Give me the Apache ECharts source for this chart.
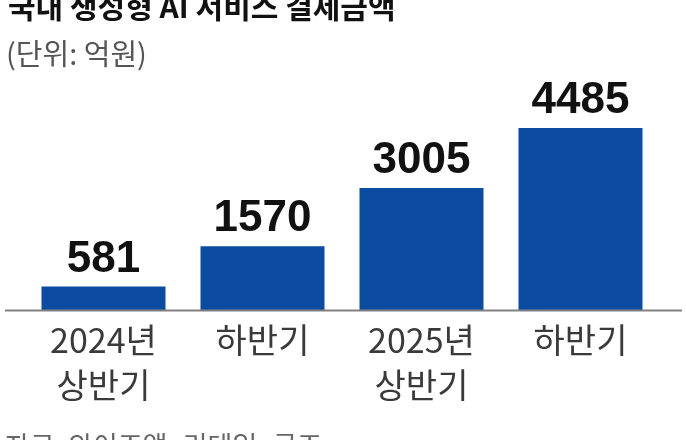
<!DOCTYPE html>
<html>
<head>
<meta charset="utf-8">
<script src="https://cdn.jsdelivr.net/npm/echarts@6/dist/echarts.min.js"></script>
<style>html,body{margin:0;padding:0;background:#fff;}#c{width:686px;height:440px;}</style>
</head>
<body>
<div id="c"></div>
<script>
const titleText = '국내 생성형 AI 서비스 결제금액';
const unitText = '(단위: 억원)';
const sourceText = '자료: 와이즈앱·리테일·굿즈';
const categories = ['2024년\n상반기', '하반기', '2025년\n상반기', '하반기'];
const values = [581, 1570, 3005, 4485];

const chart = echarts.init(document.getElementById('c'), null, {renderer: 'canvas'});
chart.setOption({
  backgroundColor: '#ffffff',
  animation: false,
  grid: {left: 24, right: 26, top: 107, bottom: 130},
  xAxis: {
    type: 'category',
    data: categories,
    axisLine: {show: false},
    axisTick: {show: false},
    axisLabel: {
      color: '#3a3a3a',
      fontFamily: "'Noto Sans CJK KR', sans-serif",
      fontSize: 34,
      lineHeight: 45,
      margin: 8
    }
  },
  yAxis: {
    type: 'value', min: 0, max: 5000,
    show: false,
    splitLine: {show: false}
  },
  series: [{
    type: 'bar',
    data: values,
    barWidth: 124,
    itemStyle: {color: '#0b4ca1'},
    label: {
      show: true,
      position: 'top',
      distance: 5,
      color: '#111111',
      fontFamily: "'Liberation Sans', Arial, sans-serif",
      fontWeight: 'bold',
      fontSize: 44
    }
  }],
  graphic: [
    {type: 'line', z: 10, shape: {x1: 5, y1: 310.5, x2: 682, y2: 310.5}, style: {stroke: '#808080', lineWidth: 2}},
    {type: 'text', left: 8, top: -8, style: {text: titleText, fill: '#111111', font: "bold 30px 'Noto Sans CJK KR', sans-serif"}},
    {type: 'text', left: 6, top: 39, style: {text: unitText, fill: '#555555', font: "29px 'Noto Sans CJK KR', sans-serif"}},
    {type: 'text', left: 5, top: 432, style: {text: sourceText, fill: '#666666', font: "27px 'Noto Sans CJK KR', sans-serif"}}
  ]
});
</script>
</body>
</html>
